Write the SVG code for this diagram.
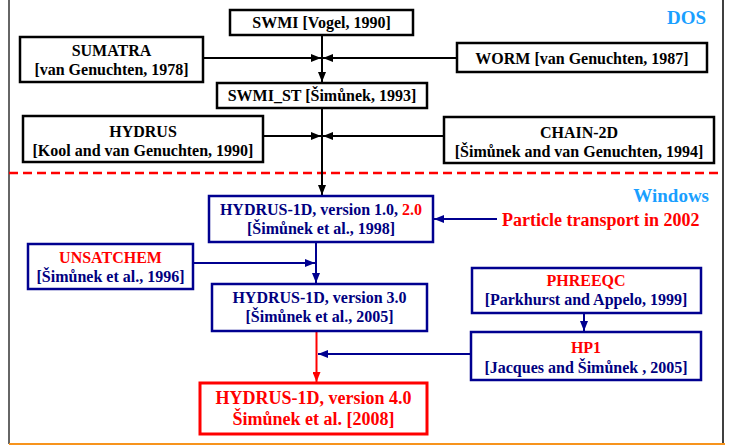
<svg xmlns="http://www.w3.org/2000/svg" width="730" height="445" viewBox="0 0 730 445">
<defs>
<style>
text{font-family:"Liberation Serif","Times New Roman",serif;font-weight:bold;text-anchor:middle}
.t{font-size:16px}
.k{fill:#000}
.n{fill:#000080}
.r{fill:#ff0000}
.bk{fill:#fff;stroke:#000;stroke-width:2.5}
.bb{fill:#fff;stroke:#000090;stroke-width:2.5}
.br{fill:#fff;stroke:#ff0000;stroke-width:3}
.ck{fill:none;stroke:#000;stroke-width:2}
.cb{fill:none;stroke:#000090;stroke-width:2}
.cr{fill:none;stroke:#ff0000;stroke-width:2}
.os{font-size:19px;fill:#1a9fff;text-anchor:end}
</style>
<marker id="ak" markerUnits="userSpaceOnUse" markerWidth="10" markerHeight="8" refX="10" refY="4" orient="auto"><path d="M0,0 L10,4 L0,8 z" fill="#000"/></marker>
<marker id="ab" markerUnits="userSpaceOnUse" markerWidth="10" markerHeight="8" refX="10" refY="4" orient="auto"><path d="M0,0 L10,4 L0,8 z" fill="#000090"/></marker>
<marker id="ar" markerUnits="userSpaceOnUse" markerWidth="10" markerHeight="8" refX="10" refY="4" orient="auto"><path d="M0,0 L10,4 L0,8 z" fill="#ff0000"/></marker>
</defs>
<rect width="730" height="445" fill="#fff"/>
<g id="frame">
<line x1="9" y1="0" x2="9" y2="444" stroke="#333" stroke-width="1.5"/>
<line x1="723" y1="0" x2="723" y2="444" stroke="#000" stroke-width="1.5"/>
<line x1="9" y1="444" x2="725" y2="444" stroke="#f7941d" stroke-width="2"/>
<line x1="9" y1="173" x2="723" y2="173" stroke="#ff0000" stroke-width="2.5" stroke-dasharray="9,5"/>
</g>
<text class="os" x="706" y="24">DOS</text>
<text class="os" x="709" y="202">Windows</text>
<g id="connectors">
<path class="ck" d="M322,35 V82" marker-end="url(#ak)"/>
<path class="ck" d="M203,58 H321" marker-end="url(#ak)"/>
<path class="ck" d="M457,58 H323" marker-end="url(#ak)"/>
<path class="ck" d="M322,108 V195" marker-end="url(#ak)"/>
<path class="ck" d="M263,136 H321" marker-end="url(#ak)"/>
<path class="ck" d="M444,136 H323" marker-end="url(#ak)"/>
<path class="cb" d="M316,243 V283" marker-end="url(#ab)"/>
<path class="cb" d="M193,263 H315" marker-end="url(#ab)"/>
<path class="cb" d="M497,219 H434" marker-end="url(#ab)"/>
<path class="cb" d="M584,313 V331" marker-end="url(#ab)"/>
<path class="cb" d="M471,354 H318" marker-end="url(#ab)"/>
<path class="cr" d="M316.5,331 V382" marker-end="url(#ar)"/>
</g>
<g id="swmi"><rect class="bk" x="230" y="10" width="183" height="25"/><text class="t k" x="321.5" y="28">SWMI [Vogel, 1990]</text></g>
<g id="sumatra"><rect class="bk" x="20" y="37" width="183" height="45"/><text class="t k" x="111.5" y="56">SUMATRA</text><text class="t k" x="111.5" y="75">[van Genuchten, 1978]</text></g>
<g id="worm"><rect class="bk" x="457" y="43" width="250" height="29"/><text class="t k" x="582" y="64">WORM [van Genuchten, 1987]</text></g>
<g id="swmi_st"><rect class="bk" x="217" y="83" width="210" height="25"/><text class="t k" x="322" y="101">SWMI_ST [Šimůnek, 1993]</text></g>
<g id="hydrus"><rect class="bk" x="23" y="116" width="240" height="46"/><text class="t k" x="143" y="137">HYDRUS</text><text class="t k" x="143" y="156">[Kool and van Genuchten, 1990]</text></g>
<g id="chain2d"><rect class="bk" x="444" y="117" width="270" height="46"/><text class="t k" x="579" y="138">CHAIN-2D</text><text class="t k" x="579" y="157">[Šimůnek and van Genuchten, 1994]</text></g>
<g id="hydrus1d_v1"><rect class="bb" x="209" y="196" width="224" height="46"/><text class="t n" x="321" y="215">HYDRUS-1D, version 1.0, <tspan class="r">2.0</tspan></text><text class="t n" x="321" y="234">[Šimůnek et al., 1998]</text></g>
<g id="particle"><text style="font-size:18px;text-anchor:start" class="r" x="502" y="226">Particle transport in 2002</text></g>
<g id="unsatchem"><rect class="bb" x="28" y="244" width="165" height="45"/><text class="t r" x="110.5" y="263">UNSATCHEM</text><text class="t n" x="110.5" y="282">[Šimůnek et al., 1996]</text></g>
<g id="hydrus1d_v3"><rect class="bb" x="212" y="284" width="215" height="47"/><text class="t n" x="319.5" y="303">HYDRUS-1D, version 3.0</text><text class="t n" x="319.5" y="322">[Šimůnek et al., 2005]</text></g>
<g id="phreeqc"><rect class="bb" x="472" y="268" width="229" height="45"/><text class="t r" x="586" y="286">PHREEQC</text><text class="t n" x="586" y="305">[Parkhurst and Appelo, 1999]</text></g>
<g id="hp1"><rect class="bb" x="471" y="332" width="230" height="48"/><text class="t r" x="586" y="353">HP1</text><text class="t n" x="586" y="373">[Jacques and Šimůnek , 2005]</text></g>
<g id="hydrus1d_v4"><rect class="br" x="200" y="383" width="227" height="51"/><text style="font-size:18px" class="r" x="313.5" y="404">HYDRUS-1D, version 4.0</text><text style="font-size:18px" class="r" x="313.5" y="425">Šimůnek et al. [2008]</text></g>
</svg>
